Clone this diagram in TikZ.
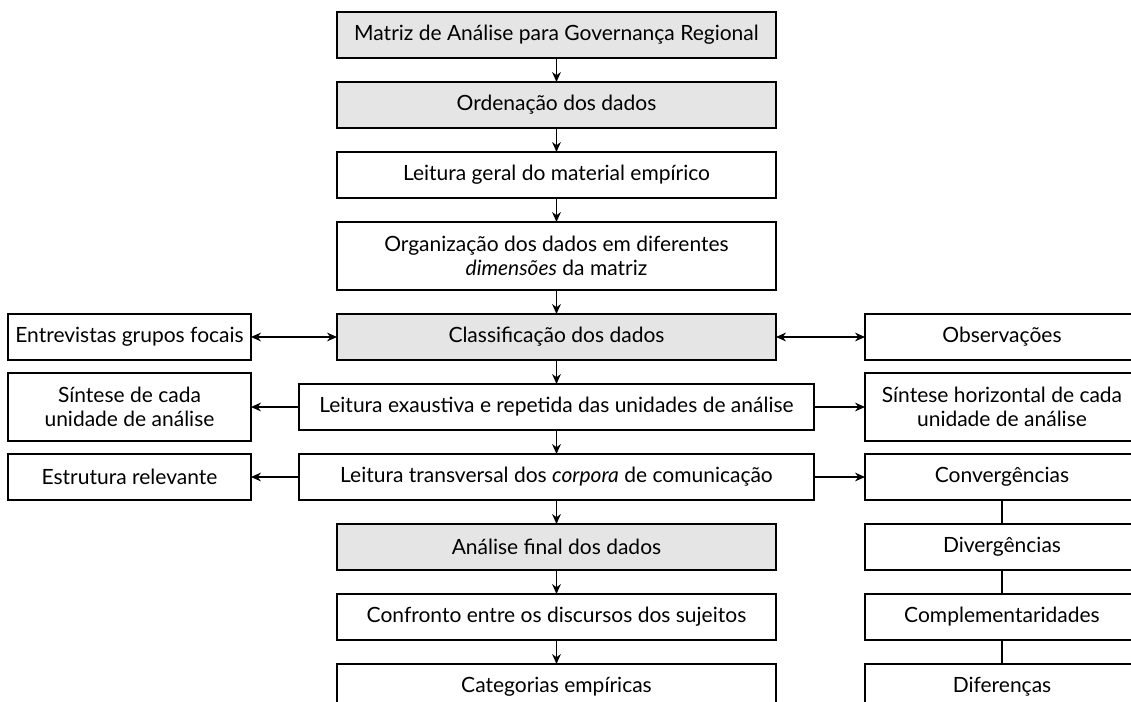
\documentclass[tikz,border=0pt]{standalone}
\usepackage{fontspec}
\setmainfont{Lato}
\usetikzlibrary{arrows.meta}
\usetikzlibrary{positioning}

\begin{document}
\begin{tikzpicture}[x=0.5pt,y=-0.5pt,>={Stealth[length=5pt,width=4.4pt]},auto,node distance=12pt,
                    line width=0.65pt,
                    main node/.style={rectangle,draw,minimum width=219.5pt,minimum height=23pt,outer sep=0pt,
                      inner sep=2pt,align=center,font=\fontsize{10.5}{12}\selectfont},
                    grey node/.style={main node,fill=black!10},
                    wide node/.style={main node,minimum width=257.5pt},
                    left node/.style={main node,minimum width=121.5pt},
                    right node/.style={main node,minimum width=137pt}]

  \useasboundingbox (0,0) rectangle (1131,702);
  \clip (0,0) rectangle (1131,702);

  % central column
  \node[grey node] (matriz) at (556.5,35) {Matriz de Análise para Governança Regional};
  \node[grey node] (ordena) [below=of matriz] {Ordenação dos dados};
  \node[main node] (geral) [below=of ordena] {Leitura geral do material empírico};
  \node[main node,minimum height=34pt] (organiza) [below=of geral]
    {Organização dos dados em diferentes\\ \textit{dimensões} da matriz};
  \node[grey node] (classif) [below=of organiza] {Classificação dos dados};
  \node[wide node] (exaust) [below=of classif] {Leitura exaustiva e repetida das unidades de análise};
  \node[wide node] (transv) [below=of exaust] {Leitura transversal dos \textit{corpora} de comunicação};
  \node[grey node] (final) [below=of transv] {Análise final dos dados};
  \node[main node] (confronto) [below=of final] {Confronto entre os discursos dos sujeitos};
  \node[main node] (categ) [below=of confronto] {Categorias empíricas};

  % left column
  \node[left node] (entrev) [left=43pt of classif] {Entrevistas grupos focais};
  \node[left node,minimum height=34pt] (sintese) [left=24pt of exaust] {Síntese de cada\\unidade de análise};
  \node[left node] (estrut) [left=24pt of transv] {Estrutura relevante};

  % right column
  \node[right node] (observ) [right=44.5pt of classif] {Observações};
  \node[right node,minimum height=34pt] (sinteseh) [right=25.5pt of exaust]
    {Síntese horizontal de cada\\unidade de análise};
  \node[right node] (converg) [right=25.5pt of transv] {Convergências};
  \node[right node] (diverg) [right=44.5pt of final] {Divergências};
  \node[right node] (compl) [right=44.5pt of confronto] {Complementaridades};
  \node[right node] (difer) [right=44.5pt of categ] {Diferenças};

  \path[->]
    (matriz) edge (ordena)
    (ordena) edge (geral)
    (geral) edge (organiza)
    (organiza) edge (classif)
    (classif) edge (exaust)
        edge[<->] (entrev)
        edge[<->] (observ)
    (exaust) edge (transv)
        edge (sintese)
        edge (sinteseh)
    (transv) edge (final)
        edge (estrut)
        edge (converg)
    (final) edge (confronto)
    (confronto) edge (categ)
;
  \path[-]
    (converg) edge (diverg)
    (diverg) edge (compl)
    (compl) edge (difer)
;
\end{tikzpicture}
\end{document}
